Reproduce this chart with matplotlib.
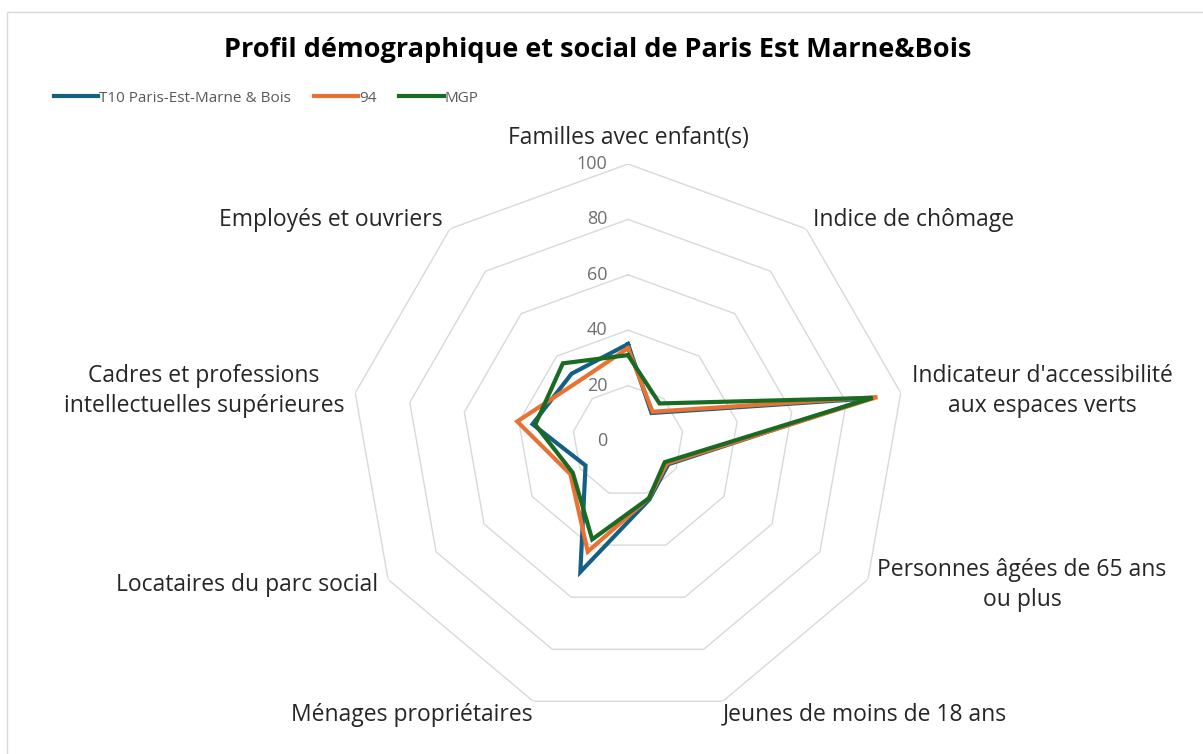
import numpy as np
import matplotlib
matplotlib.use('Agg')
import matplotlib.pyplot as plt
from matplotlib.patches import Rectangle

plt.rcParams['font.family'] = ['Open Sans', 'DejaVu Sans']

# données du graphique radar
categories = [
    "Familles avec enfant(s)",
    "Indice de chômage",
    "Indicateur d'accessibilité\naux espaces verts",
    "Personnes âgées de 65 ans\nou plus",
    "Jeunes de moins de 18 ans",
    "Ménages propriétaires",
    "Locataires du parc social",
    "Cadres et professions\nintellectuelles supérieures",
    "Employés et ouvriers",
]
t10 = [35, 13.2, 88.5, 16.8, 22.5, 50.3, 17.7, 35, 31.7]
dep94 = [33.5, 13.8, 91.4, 16.2, 22, 42.5, 24, 40.6, 28]
mgp = [31, 17.7, 89.7, 15.3, 22, 37.8, 23, 34, 36.6]
series_names = ["T10 Paris-Est-Marne & Bois", "94", "MGP"]
series_colors = ["#156082", "#E97132", "#196B24"]
ticks = [0, 20, 40, 60, 80, 100]

W, H = 1203, 754
fig = plt.figure(figsize=(W / 100, H / 100), dpi=100)

# cadre gris clair du graphique
fig.patches.append(Rectangle((7 / W, -0.1), 1.2, 1 - 12 / H + 0.1, transform=fig.transFigure,
                             fill=False, edgecolor='#d9d9d9', linewidth=1))

cx, cy, R = 628, 441, 277
ax = fig.add_axes([(cx - R) / W, (H - cy - R) / H, 2 * R / W, 2 * R / H], polar=True)
ax.set_theta_zero_location('N')
ax.set_theta_direction(-1)
ax.set_ylim(0, 100)
ax.grid(False)
ax.set_xticks([])
ax.set_yticks([])
ax.spines['polar'].set_visible(False)
ax.patch.set_alpha(0)

n = len(categories)
angles = np.linspace(0, 2 * np.pi, n, endpoint=False)
closed = np.append(angles, angles[0])

# grille en nonagone
for r in ticks[1:]:
    ax.plot(closed, [r] * (n + 1), color='#d9d9d9', linewidth=1, zorder=1)

for v in ticks:
    ax.annotate(str(v), xy=(0, v), xytext=(-15, 0), textcoords='offset points',
                ha='right', va='center', fontsize=13, color='#6f6f6f')

for vals, name, col in zip([t10, dep94, mgp], series_names, series_colors):
    ax.plot(closed, vals + vals[:1], color=col, linewidth=3, label=name, zorder=3,
            solid_joinstyle='miter')

# étiquettes des axes
label_pos = [
    ('center', 'bottom'), ('left', 'center'), ('left', 'center'), ('left', 'center'),
    ('left', 'top'), ('right', 'top'), ('right', 'center'), ('right', 'center'), ('right', 'center'),
]
label_r = {'bottom': 105, 'top': 100.5, 'center': 104}
for ang, lab, (ha, va) in zip(angles, categories, label_pos):
    ax.text(ang, label_r[va], lab, ha=ha, va=va, multialignment='center', linespacing=1.35,
            fontsize=16.5, color='#262626')

fig.text(598 / W, 1 - 50 / H, "Profil démographique et social de Paris Est Marne&Bois",
         ha='center', va='center', fontsize=19.5, fontweight='bold', color='#000000')

fig.legend(loc='center left', bbox_to_anchor=(48 / W, 1 - 98 / H), ncol=3, frameon=False,
           handlelength=2.9, handletextpad=0.05, columnspacing=1.5,
           prop={'size': 11}, labelcolor='#595959', borderaxespad=0)

fig.savefig('out.png', dpi=100)
